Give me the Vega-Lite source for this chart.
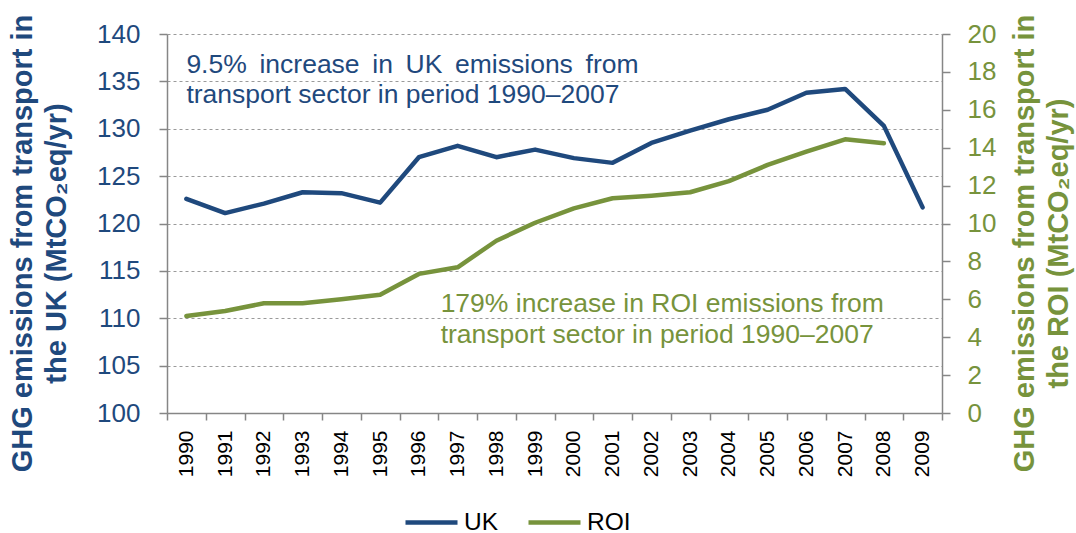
{
  "$schema": "https://vega.github.io/schema/vega-lite/v6.json",
  "width": 775,
  "height": 379,
  "autosize": {"type": "none"},
  "padding": {"left": 167, "top": 34, "right": 134, "bottom": 120},
  "background": "white",
  "config": {
    "font": "Liberation Sans",
    "view": {"stroke": null},
    "legend": {
      "orient": "none",
      "legendX": 236,
      "legendY": 460,
      "direction": "horizontal",
      "title": null,
      "symbolType": "stroke",
      "symbolSize": 2704,
      "symbolStrokeWidth": 4.5,
      "labelFontSize": 24.5,
      "labelColor": "black",
      "labelFont": "Liberation Sans",
      "labelOffset": 4,
      "columnPadding": 20
    }
  },
  "datasets": {
    "series": [
      {"year": "1990", "series": "UK", "value": 122.6},
      {"year": "1991", "series": "UK", "value": 121.1},
      {"year": "1992", "series": "UK", "value": 122.1},
      {"year": "1993", "series": "UK", "value": 123.3},
      {"year": "1994", "series": "UK", "value": 123.2},
      {"year": "1995", "series": "UK", "value": 122.2},
      {"year": "1996", "series": "UK", "value": 127.0},
      {"year": "1997", "series": "UK", "value": 128.2},
      {"year": "1998", "series": "UK", "value": 127.0},
      {"year": "1999", "series": "UK", "value": 127.8},
      {"year": "2000", "series": "UK", "value": 126.9},
      {"year": "2001", "series": "UK", "value": 126.4},
      {"year": "2002", "series": "UK", "value": 128.5},
      {"year": "2003", "series": "UK", "value": 129.8},
      {"year": "2004", "series": "UK", "value": 131.0},
      {"year": "2005", "series": "UK", "value": 132.0},
      {"year": "2006", "series": "UK", "value": 133.8},
      {"year": "2007", "series": "UK", "value": 134.2},
      {"year": "2008", "series": "UK", "value": 130.3},
      {"year": "2009", "series": "UK", "value": 121.7},
      {"year": "1990", "series": "ROI", "value": 5.12},
      {"year": "1991", "series": "ROI", "value": 5.38},
      {"year": "1992", "series": "ROI", "value": 5.79},
      {"year": "1993", "series": "ROI", "value": 5.79},
      {"year": "1994", "series": "ROI", "value": 6.0},
      {"year": "1995", "series": "ROI", "value": 6.24},
      {"year": "1996", "series": "ROI", "value": 7.34},
      {"year": "1997", "series": "ROI", "value": 7.69},
      {"year": "1998", "series": "ROI", "value": 9.09},
      {"year": "1999", "series": "ROI", "value": 10.04},
      {"year": "2000", "series": "ROI", "value": 10.8},
      {"year": "2001", "series": "ROI", "value": 11.33},
      {"year": "2002", "series": "ROI", "value": 11.47},
      {"year": "2003", "series": "ROI", "value": 11.65},
      {"year": "2004", "series": "ROI", "value": 12.24},
      {"year": "2005", "series": "ROI", "value": 13.09},
      {"year": "2006", "series": "ROI", "value": 13.79},
      {"year": "2007", "series": "ROI", "value": 14.44},
      {"year": "2008", "series": "ROI", "value": 14.23}
    ],
    "notes": [
      {"year": "1990", "series": "UK", "value": 135.85, "label": "9.5% \u2009increase \u2009in \u2009UK \u2009emissions \u2009from\ntransport sector in period 1990–2007"},
      {"year": "1997", "series": "ROI", "value": 5.35, "label": "179% increase in ROI emissions from\ntransport sector in period 1990–2007"}
    ]
  },
  "encoding": {
    "x": {
      "field": "year",
      "type": "ordinal",
      "scale": {"paddingInner": 0, "paddingOuter": 0},
      "axis": {
        "title": null,
        "labelAngle": 270,
        "labelAlign": "right",
        "labelBaseline": "middle",
        "labelFontSize": 21,
        "labelColor": "black",
        "labelPadding": 10,
        "tickBand": "extent",
        "tickSize": 7,
        "tickWidth": 1.5,
        "tickColor": "#868686",
        "domainColor": "#868686",
        "domainWidth": 1.5,
        "grid": false
      }
    }
  },
  "layer": [
    {
      "encoding": {
        "y": {
          "field": "value",
          "type": "quantitative",
          "scale": {"domain": [100, 140], "nice": false, "zero": false},
          "axis": {
            "orient": "left",
            "values": [100, 105, 110, 115, 120, 125, 130, 135, 140],
            "domainColor": "#868686",
            "domainWidth": 1.5,
            "tickColor": "#868686",
            "tickWidth": 1.5,
            "tickSize": 8,
            "labelFontSize": 26,
            "labelColor": "#1F497D",
            "labelPadding": 19,
            "grid": true,
            "gridColor": "#9a9a9a",
            "gridDash": [3, 3],
            "gridWidth": 1,
            "title": ["GHG emissions from transport in", "the UK (MtCO₂eq/yr)"],
            "titleFontSize": 29,
            "titleFontWeight": "bold",
            "titleColor": "#1F497D",
            "titleAngle": 270,
            "titleAlign": "center",
            "titleBaseline": "alphabetic",
            "titleLineHeight": 34,
            "titleX": -136,
            "titleY": 209
          }
        }
      },
      "layer": [
        {
          "data": {"name": "series"},
          "transform": [{"filter": "datum.series === 'UK'"}],
          "mark": {"type": "line", "strokeWidth": 4.5, "strokeCap": "round", "strokeJoin": "round"},
          "encoding": {
            "color": {
              "field": "series",
              "type": "nominal",
              "scale": {"domain": ["UK", "ROI"], "range": ["#1F497D", "#77933C"]}
            }
          }
        },
        {
          "data": {"name": "notes"},
          "transform": [{"filter": "datum.series === 'UK'"}],
          "mark": {"type": "text", "align": "left", "baseline": "alphabetic", "fontSize": 26.5, "lineHeight": 30, "lineBreak": "\n", "color": "#1F497D"},
          "encoding": {
            "text": {"field": "label"}
          }
        }
      ]
    },
    {
      "encoding": {
        "y": {
          "field": "value",
          "type": "quantitative",
          "scale": {"domain": [0, 20], "nice": false},
          "axis": {
            "orient": "right",
            "values": [0, 2, 4, 6, 8, 10, 12, 14, 16, 18, 20],
            "domainColor": "#868686",
            "domainWidth": 1.5,
            "tickColor": "#868686",
            "tickWidth": 1.5,
            "tickSize": 8,
            "labelFontSize": 26,
            "labelColor": "#77933C",
            "labelPadding": 17,
            "grid": false,
            "title": ["GHG emissions from transport in", "the ROI (MtCO₂eq/yr)"],
            "titleFontSize": 29,
            "titleFontWeight": "bold",
            "titleColor": "#77933C",
            "titleAngle": 270,
            "titleAlign": "center",
            "titleBaseline": "alphabetic",
            "titleLineHeight": 34,
            "titleX": 91,
            "titleY": 209
          }
        }
      },
      "layer": [
        {
          "data": {"name": "series"},
          "transform": [{"filter": "datum.series === 'ROI'"}],
          "mark": {"type": "line", "strokeWidth": 4.5, "strokeCap": "round", "strokeJoin": "round"},
          "encoding": {
            "color": {
              "field": "series",
              "type": "nominal",
              "scale": {"domain": ["UK", "ROI"], "range": ["#1F497D", "#77933C"]}
            }
          }
        },
        {
          "data": {"name": "notes"},
          "transform": [{"filter": "datum.series === 'ROI'"}],
          "mark": {"type": "text", "align": "left", "baseline": "alphabetic", "fontSize": 26.5, "lineHeight": 31, "lineBreak": "\n", "dx": -17, "color": "#77933C"},
          "encoding": {
            "text": {"field": "label"}
          }
        }
      ]
    }
  ],
  "resolve": {"scale": {"y": "independent"}}
}
